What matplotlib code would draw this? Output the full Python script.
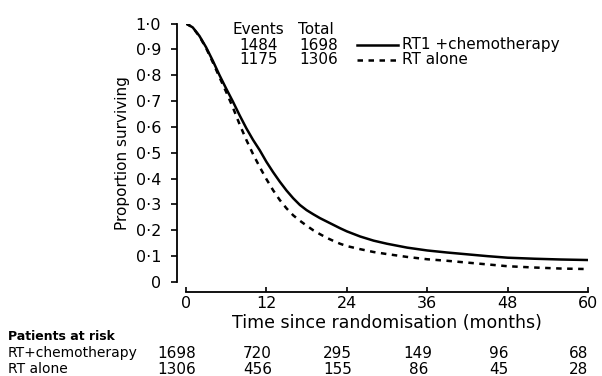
import matplotlib
matplotlib.use("Agg")
import matplotlib.pyplot as plt
import matplotlib.transforms as mtransforms

plt.rcParams['font.family'] = ['DejaVu Sans']

# Data
months_chemo = [0, 1, 2, 3, 4, 5, 6, 7, 8, 9, 10, 11, 12, 13, 14, 15, 16, 17, 18, 19, 20,
                21, 22, 23, 24, 26, 28, 30, 33, 36, 39, 42, 45, 48, 52, 56, 60]
surv_chemo = [1.0, 0.985, 0.952, 0.908, 0.856, 0.80, 0.748, 0.698, 0.645, 0.595, 0.55, 0.51,
              0.465, 0.425, 0.388, 0.354, 0.324, 0.298, 0.278, 0.262, 0.247, 0.234, 0.221, 0.208,
              0.196, 0.176, 0.16, 0.148, 0.133, 0.122, 0.114, 0.107, 0.10, 0.094, 0.09,
              0.087, 0.085]
months_rt = [0, 1, 2, 3, 4, 5, 6, 7, 8, 9, 10, 11, 12, 13, 14, 15, 16, 17, 18, 19, 20,
             21, 22, 23, 24, 26, 28, 30, 33, 36, 39, 42, 45, 48, 52, 56, 60]
surv_rt = [1.0, 0.985, 0.95, 0.905, 0.85, 0.792, 0.735, 0.675, 0.61, 0.55, 0.495, 0.445,
           0.398, 0.355, 0.317, 0.285, 0.258, 0.237, 0.218, 0.20, 0.185, 0.171, 0.159, 0.148,
           0.139, 0.127, 0.116, 0.108, 0.097, 0.088, 0.082, 0.075, 0.068, 0.061, 0.056,
           0.052, 0.05]

x_ticks = [0, 12, 24, 36, 48, 60]
y_ticks = [0, 0.1, 0.2, 0.3, 0.4, 0.5, 0.6, 0.7, 0.8, 0.9, 1.0]
y_tick_labels = ['0', '0·1', '0·2', '0·3', '0·4', '0·5', '0·6', '0·7', '0·8', '0·9', '1·0']

legend_labels = ['RT1 +chemotherapy', 'RT alone']
events = ['1484', '1175']
totals = ['1698', '1306']

risk_groups = ['RT+chemotherapy', 'RT alone']
risk_chemo = [1698, 720, 295, 149, 96, 68]
risk_rt = [1306, 456, 155, 86, 45, 28]

W, H = 602, 376
fig = plt.figure(figsize=(W / 100, H / 100), dpi=100)

def fx(px):
    return px / W

def fy(py):
    return 1 - py / H

x0, x1 = 186, 588
y0, y1 = 282, 23.5
ax = fig.add_axes([fx(x0), fy(y0), fx(x1) - fx(x0), fy(y1) - fy(y0)])
ax.set_xlim(0, 60)
ax.set_ylim(0, 1)

dash = (0, (2.2, 2.2))
ax.plot(months_chemo, surv_chemo, color='black', lw=1.8, solid_capstyle='butt')
ax.plot(months_rt, surv_rt, color='black', lw=1.8, linestyle=dash)

for s in ['top', 'right']:
    ax.spines[s].set_visible(False)
ax.spines['left'].set_position(('outward', 6.5))
ax.spines['bottom'].set_position(('outward', 7.0))
ax.spines['left'].set_bounds(0, 1)
ax.spines['bottom'].set_bounds(0, 60)
ax.spines['left'].set_linewidth(1.3)
ax.spines['bottom'].set_linewidth(1.3)

ax.set_yticks(y_ticks)
ax.set_yticklabels(y_tick_labels)
ax.set_xticks(x_ticks)
ax.tick_params(axis='y', direction='out', length=4.5, width=1.2, labelsize=11.5, pad=7)
ax.tick_params(axis='x', direction='in', length=3.5, width=1.2, labelsize=11.5, pad=3)

ax.set_xlabel('Time since randomisation (months)', fontsize=12.5, labelpad=2)
ax.set_ylabel('Proportion surviving', fontsize=11,
              family=['Liberation Sans Narrow', 'DejaVu Sans'], labelpad=4)

# Events / total header and legend
fig.text(fx(258), fy(29), 'Events', ha='center', va='center', fontsize=11)
fig.text(fx(316), fy(29), 'Total', ha='center', va='center', fontsize=11)
ly = [45, 60]
styles = ['-', dash]
for i in range(2):
    fig.text(fx(259), fy(ly[i]), events[i], ha='center', va='center', fontsize=11)
    fig.text(fx(319), fy(ly[i]), totals[i], ha='center', va='center', fontsize=11)
    fig.add_artist(plt.Line2D([fx(357), fx(398)], [fy(ly[i]), fy(ly[i])],
                              transform=fig.transFigure, color='black', lw=1.8,
                              linestyle=styles[i]))
    fig.text(fx(402), fy(ly[i]), legend_labels[i], ha='left', va='center', fontsize=11)

# Patients at risk table
fig.text(fx(8), fy(337), 'Patients at risk', ha='left', va='center', fontsize=9,
         fontweight='bold')
rows_y = [353, 369]
rows = [risk_chemo, risk_rt]
offset = mtransforms.ScaledTranslation(-9 / 100, 0, fig.dpi_scale_trans)
blend = mtransforms.blended_transform_factory(ax.transData, fig.transFigure) + offset
for i in range(2):
    fig.text(fx(8), fy(rows_y[i]), risk_groups[i], ha='left', va='center', fontsize=10)
    for t, n in zip(x_ticks, rows[i]):
        fig.text(t, fy(rows_y[i]), str(n), ha='center', va='center', fontsize=11,
                 transform=blend)

fig.savefig('out.png', dpi=100)
